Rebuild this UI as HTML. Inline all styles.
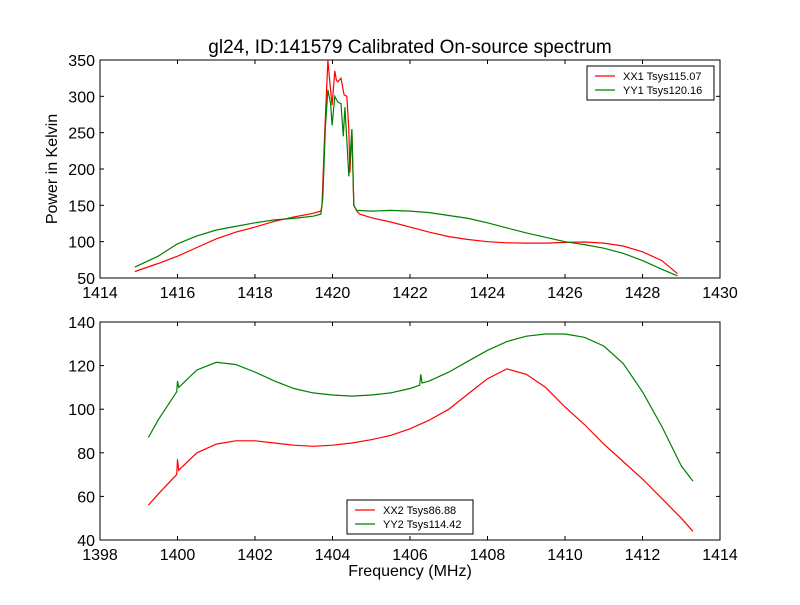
<!DOCTYPE html>
<html><head><meta charset="utf-8"><style>
body{margin:0;background:#fff}
svg{font-family:"Liberation Sans",sans-serif}
</style></head><body>
<svg id="c" width="800" height="600" xmlns="http://www.w3.org/2000/svg">
<rect width="800" height="600" fill="#fff"/>
</svg>
<script>
const topXX1F=[1414.9,1415.5,1416,1416.5,1417,1417.5,1418,1418.5,1419,1419.5,1419.7,1419.73,1419.8,1419.88,1419.93,1419.99,1420.06,1420.1,1420.14,1420.22,1420.3,1420.37,1420.42,1420.45,1420.5,1420.55,1420.63,1420.7,1421,1421.5,1422,1422.5,1423,1423.5,1424,1424.5,1425,1425.5,1426,1426.5,1427,1427.5,1428,1428.5,1428.9];
const topXX1V=[59,70,80,92,104,113,120,128,134,139,142,150,250,350,320,288,335,322,320,325,302,300,255,195,252,150,142,138,133,127,120,113,107,103,100,98.5,98,98,99,99.5,98,94,86,74,56];
const topYY1F=[1414.9,1415.5,1416,1416.5,1417,1417.5,1418,1418.5,1419,1419.5,1419.7,1419.75,1419.82,1419.88,1419.95,1419.99,1420.06,1420.14,1420.22,1420.28,1420.32,1420.37,1420.42,1420.47,1420.5,1420.55,1420.63,1421,1421.5,1422,1422.5,1423,1423.5,1424,1424.5,1425,1425.5,1426,1426.5,1427,1427.5,1428,1428.5,1428.9];
const topYY1V=[65,80,97,108,116,121,126,130,132,135,138,160,260,309,290,260,300,292,290,245,285,240,190,230,255,150,143,142,143,142,140,136,132,126,119,112,106,100,96,91,84,74,62,53];
const botXX2F=[1399.25,1399.5,1399.98,1400,1400.03,1400.5,1401,1401.5,1402,1402.5,1403,1403.5,1404,1404.5,1405,1405.5,1406,1406.5,1407,1407.5,1408,1408.5,1409,1409.5,1410,1410.5,1411,1411.5,1412,1412.5,1413,1413.3];
const botXX2V=[56,61,70,77,72,80,84,85.5,85.5,84.5,83.5,83,83.5,84.5,86,88,91,95,100,107,114,118.5,116,110,101,93,84,76,68,59,50,44];
const botYY2F=[1399.25,1399.5,1399.98,1400,1400.03,1400.5,1401,1401.5,1402,1402.5,1403,1403.5,1404,1404.5,1405,1405.5,1406,1406.25,1406.28,1406.31,1406.5,1407,1407.5,1408,1408.5,1409,1409.5,1410,1410.5,1411,1411.5,1412,1412.5,1413,1413.3];
const botYY2V=[87,95,108,113,110,118,121.5,120.5,117,113,109.5,107.5,106.5,106,106.5,107.5,109.5,111,116,112,113,117,122,127,131,133.5,134.5,134.5,133,129,121,108,92,74,67];
const topXTicks=[1414,1416,1418,1420,1422,1424,1426,1428,1430];
const topYTicks=[50,100,150,200,250,300,350];
const botXTicks=[1398,1400,1402,1404,1406,1408,1410,1412,1414];
const botYTicks=[40,60,80,100,120,140];

const svg=document.getElementById('c');
const NS='http://www.w3.org/2000/svg';
function mk(t,a,txt){const e=document.createElementNS(NS,t);for(const k in a)e.setAttribute(k,a[k]);if(txt!==undefined)e.textContent=txt;svg.appendChild(e);return e;}
function panel(p,name){
  const sx=v=>p.x0+(v-p.xmin)/(p.xmax-p.xmin)*(p.x1-p.x0);
  const sy=v=>p.y1-(v-p.ymin)/(p.ymax-p.ymin)*(p.y1-p.y0);
  const fr=mk('rect',{x:p.x0,y:p.y0,width:p.x1-p.x0,height:p.y1-p.y0,fill:'#fff',stroke:'#000','stroke-width':1});
  
  
  p.series.forEach(s=>{
    const pts=s.f.map((f,i)=>sx(f).toFixed(1)+','+sy(s.v[i]).toFixed(1)).join(' ');
    const l=mk('polyline',{points:pts,fill:'none',stroke:s.c,'stroke-width':1.2});
    
    
  });
  p.xt.forEach(t=>{const x=sx(t);
    mk('line',{x1:x,x2:x,y1:p.y1,y2:p.y1-4,stroke:'#000'});mk('line',{x1:x,x2:x,y1:p.y0,y2:p.y0+4,stroke:'#000'});
    const e=mk('text',{x:x,y:p.y1+20,'text-anchor':'middle','font-size':16},t);
    
    });
  p.yt.forEach(t=>{const y=sy(t);
    mk('line',{x1:p.x0,x2:p.x0+4,y1:y,y2:y,stroke:'#000'});mk('line',{x1:p.x1,x2:p.x1-4,y1:y,y2:y,stroke:'#000'});
    const e=mk('text',{x:p.x0-5,y:y+6,'text-anchor':'end','font-size':16},t);
    
    });
  const lg=p.leg;
  const b=mk('rect',{x:lg.x,y:lg.y,width:lg.w,height:34,fill:'#fff',stroke:'#000'});
  
  
  p.series.forEach((s,i)=>{const y=lg.y+10+i*14;
    mk('line',{x1:lg.x+8,x2:lg.x+28,y1:y,y2:y,stroke:s.c,'stroke-width':1.2});
    const e=mk('text',{x:lg.x+36,y:y+4,'font-size':11},s.label);
    
    });
}
panel({x0:100,x1:720,y0:60,y1:278,xmin:1414,xmax:1430,ymin:50,ymax:350,xt:topXTicks,yt:topYTicks,
  leg:{x:587,y:66,w:127},
  series:[{f:topXX1F,v:topXX1V,c:'#ff0000',label:'XX1 Tsys115.07',name:'xx1'},{f:topYY1F,v:topYY1V,c:'#008000',label:'YY1 Tsys120.16',name:'yy1'}]},'top');
panel({x0:100,x1:720,y0:322,y1:540,xmin:1398,xmax:1414,ymin:40,ymax:140,xt:botXTicks,yt:botYTicks,
  leg:{x:347,y:500,w:126},
  series:[{f:botXX2F,v:botXX2V,c:'#ff0000',label:'XX2 Tsys86.88',name:'xx2'},{f:botYY2F,v:botYY2V,c:'#008000',label:'YY2 Tsys114.42',name:'yy2'}]},'bottom');
let t=mk('text',{x:410,y:53,'text-anchor':'middle','font-size':19},'gl24, ID:141579 Calibrated On-source spectrum');


t=mk('text',{x:57,y:169,'text-anchor':'middle','font-size':16,transform:'rotate(-90 57 169)'},'Power in Kelvin');


t=mk('text',{x:410,y:576,'text-anchor':'middle','font-size':16},'Frequency (MHz)');


</script>
</body></html>
